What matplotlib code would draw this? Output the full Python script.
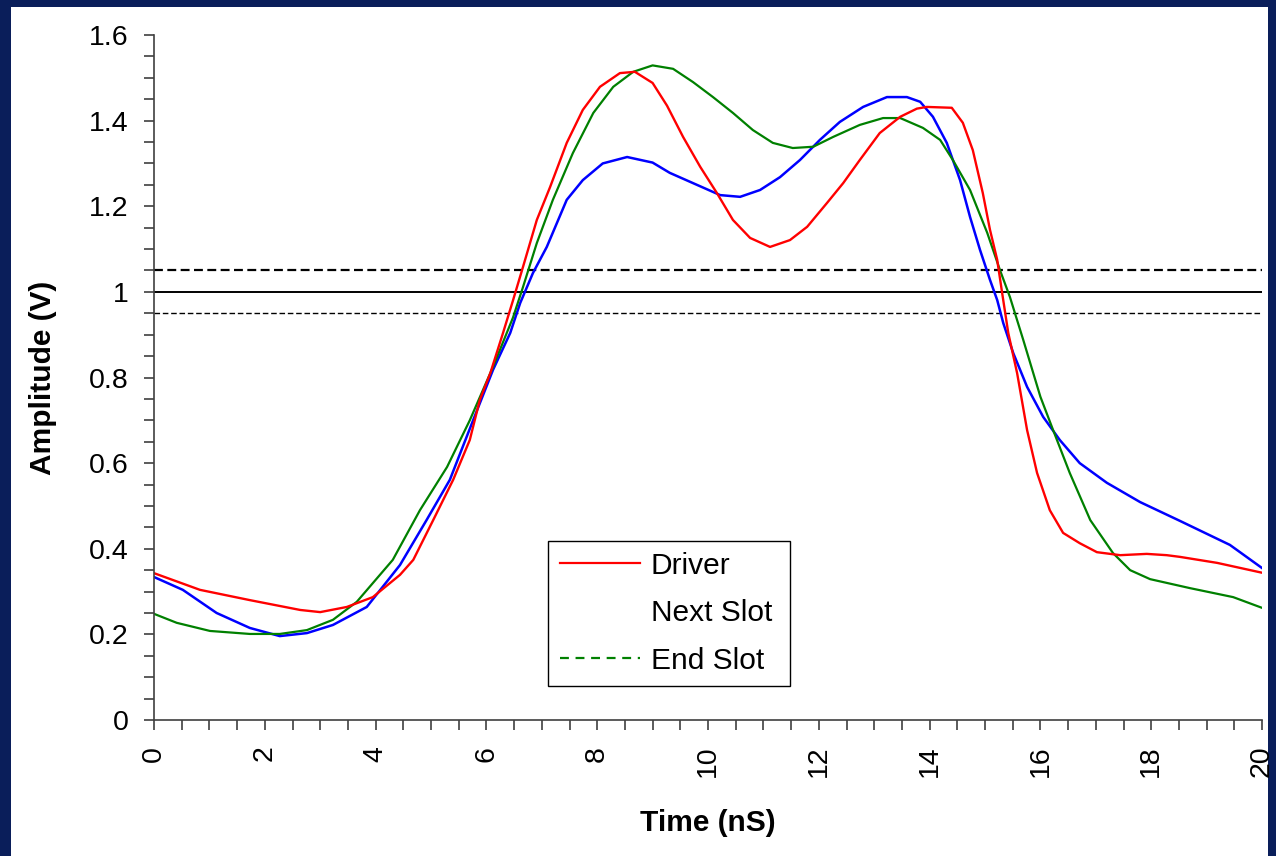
import matplotlib.pyplot as plt
from matplotlib.lines import Line2D
from matplotlib.patches import Rectangle
from matplotlib.ticker import MultipleLocator

plt.rcParams['font.family'] = ['Liberation Sans', 'DejaVu Sans']

# Driver (red)
drv_t = [0.0, 0.83, 1.73, 2.64, 3.0, 3.48, 3.95, 4.44, 4.68, 5.04, 5.40, 5.70,
         5.88, 6.07, 6.30, 6.48, 6.66, 6.91, 7.15, 7.45, 7.74, 8.05, 8.41, 8.68,
         9.0, 9.26, 9.55, 9.86, 10.16, 10.45, 10.76, 11.12, 11.48, 11.79, 12.15,
         12.44, 12.74, 13.1, 13.47, 13.77, 13.95, 14.40, 14.60, 14.78, 14.96,
         15.09, 15.22, 15.31, 15.42, 15.58, 15.76, 15.94, 16.17, 16.41, 16.71,
         17.02, 17.44, 17.92, 18.28, 18.52, 19.19, 20.0]
drv_v = [0.343, 0.304, 0.28, 0.257, 0.252, 0.264, 0.287, 0.339, 0.374, 0.467,
         0.561, 0.654, 0.747, 0.81, 0.904, 0.98, 1.058, 1.168, 1.245, 1.348,
         1.425, 1.479, 1.511, 1.514, 1.488, 1.435, 1.362, 1.292, 1.231, 1.168,
         1.126, 1.105, 1.121, 1.152, 1.208, 1.254, 1.308, 1.371, 1.409, 1.428,
         1.432, 1.430, 1.395, 1.331, 1.231, 1.145, 1.075, 0.997, 0.904, 0.81,
         0.677, 0.577, 0.49, 0.437, 0.413, 0.392, 0.385, 0.388, 0.385, 0.381,
         0.367, 0.344]

# Next Slot (blue)
nxt_t = [0.0, 0.52, 1.13, 1.73, 2.27, 2.76, 3.23, 3.84, 4.44, 4.92, 5.34, 5.76,
         6.12, 6.43, 6.61, 6.84, 7.09, 7.45, 7.74, 8.10, 8.54, 9.0, 9.31, 9.80,
         10.22, 10.58, 10.94, 11.30, 11.66, 12.02, 12.38, 12.80, 13.23, 13.59,
         13.83, 14.06, 14.31, 14.55, 14.73, 14.91, 15.09, 15.22, 15.33, 15.51,
         15.76, 16.05, 16.35, 16.71, 17.2, 17.8, 18.52, 19.42, 20.0]
nxt_v = [0.334, 0.304, 0.25, 0.215, 0.196, 0.203, 0.222, 0.264, 0.362, 0.467,
         0.561, 0.70, 0.818, 0.904, 0.974, 1.044, 1.105, 1.215, 1.261, 1.30,
         1.315, 1.302, 1.278, 1.25, 1.226, 1.222, 1.238, 1.268, 1.308, 1.355,
         1.397, 1.432, 1.455, 1.455, 1.444, 1.409, 1.348, 1.261, 1.175, 1.098,
         1.028, 0.981, 0.927, 0.857, 0.778, 0.708, 0.654, 0.60, 0.554, 0.509,
         0.465, 0.409, 0.355]

# End Slot (green)
end_t = [0.0, 0.41, 1.01, 1.73, 2.27, 2.76, 3.23, 3.66, 4.31, 4.80, 5.29, 5.70,
         6.12, 6.48, 6.66, 6.91, 7.20, 7.56, 7.93, 8.29, 8.65, 9.0, 9.37, 9.73,
         10.09, 10.45, 10.81, 11.17, 11.53, 11.90, 12.26, 12.74, 13.16, 13.47,
         13.88, 14.19, 14.42, 14.73, 15.04, 15.27, 15.45, 15.69, 16.0, 16.23,
         16.53, 16.9, 17.31, 17.62, 17.98, 18.70, 19.48, 20.0]
end_v = [0.248, 0.227, 0.208, 0.201, 0.201, 0.21, 0.234, 0.276, 0.374, 0.49,
         0.591, 0.70, 0.825, 0.94, 1.011, 1.114, 1.215, 1.324, 1.418, 1.479,
         1.514, 1.529, 1.521, 1.49, 1.455, 1.418, 1.378, 1.348, 1.336, 1.339,
         1.362, 1.39, 1.406, 1.406, 1.383, 1.355, 1.308, 1.238, 1.138, 1.051,
         0.988, 0.888, 0.755, 0.677, 0.577, 0.467, 0.39, 0.35, 0.329, 0.308,
         0.287, 0.262]

ref_levels = [1.05, 1.0, 0.95]

fig = plt.figure(figsize=(12.76, 8.56), dpi=100)
fig.patch.set_facecolor('#0a1e5a')
fig.add_artist(Rectangle((11 / 1276, 0), (1268 - 11) / 1276, 1 - 7 / 856,
                         transform=fig.transFigure, facecolor='white',
                         edgecolor='none', zorder=-5))

ax = fig.add_axes([154 / 1276, 1 - 720 / 856, 1108 / 1276, 685 / 856])
ax.patch.set_alpha(0)

# threshold lines
ax.axhline(ref_levels[0], color='black', linestyle=(0, (4, 2)), linewidth=1.6)
ax.axhline(ref_levels[1], color='black', linestyle='-', linewidth=1.4)
ax.axhline(ref_levels[2], color='black', linestyle=(0, (4, 2)), linewidth=1.0)

ax.plot(nxt_t, nxt_v, color='#0000ff', linewidth=1.8)
ax.plot(end_t, end_v, color='#008000', linewidth=1.6)
ax.plot(drv_t, drv_v, color='#ff0000', linewidth=1.7)

ax.set_xlim(0, 20)
ax.set_ylim(0, 1.6)
ax.xaxis.set_major_locator(MultipleLocator(2))
ax.xaxis.set_minor_locator(MultipleLocator(0.5))
ax.yaxis.set_minor_locator(MultipleLocator(0.05))
ax.set_yticks([0, 0.2, 0.4, 0.6, 0.8, 1.0, 1.2, 1.4, 1.6])
ax.set_yticklabels(['0', '0.2', '0.4', '0.6', '0.8', '1', '1.2', '1.4', '1.6'])

for s in ['top', 'right']:
    ax.spines[s].set_visible(False)
for s in ['left', 'bottom']:
    ax.spines[s].set_color('#404040')
    ax.spines[s].set_linewidth(1.2)

ax.tick_params(axis='both', which='both', direction='out', color='#404040',
               width=1.2, labelsize=20.5, length=7.5)
ax.tick_params(axis='y', which='major', pad=11)
ax.tick_params(axis='x', which='major', labelrotation=90, pad=11)

ax.set_xlabel('Time (nS)', fontsize=21.5, fontweight='bold', labelpad=23)
ax.set_ylabel('Amplitude (V)', fontsize=21.5, fontweight='bold', labelpad=23)

handles = [Line2D([], [], color='#ff0000', linewidth=1.6),
           Line2D([], [], color='none'),
           Line2D([], [], color='#008000', linewidth=1.6, linestyle=(0, (4, 3)))]
leg = ax.legend(handles, ['Driver', 'Next Slot', 'End Slot'],
                loc='lower left', bbox_to_anchor=(0.356, 0.0496, 0.218, 0.213),
                mode='expand', borderaxespad=0, fontsize=21.5, fancybox=False,
                framealpha=1, edgecolor='black', handlelength=2.7,
                handletextpad=0.35, labelspacing=0.65, borderpad=0.38)
leg.get_frame().set_linewidth(1.0)

fig.savefig('out.png', dpi=100, facecolor=fig.get_facecolor())
